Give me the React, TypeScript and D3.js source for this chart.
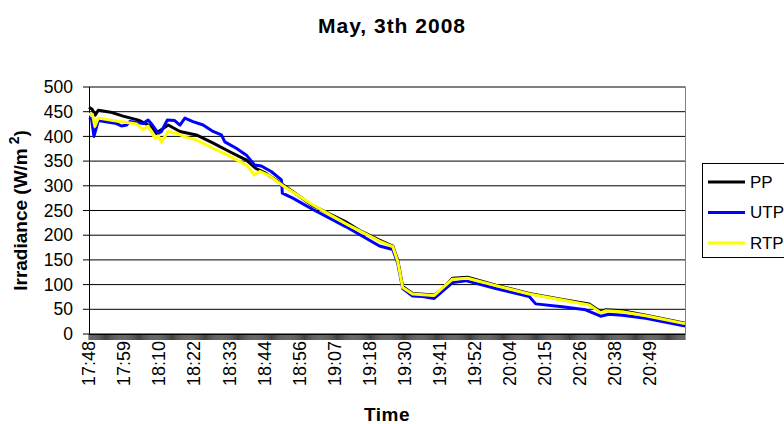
import React from "react";
import * as d3 from "d3";

// minutes after 17:48 and irradiance (W/m²)
const ppT = [0, 1, 2, 3, 7, 11, 16, 18.6, 20.5, 21.8, 23, 25.6, 29.4, 34.7, 40, 45.5, 50.9, 54, 57, 62.7, 72, 83, 87.4, 93.9, 98.2, 99.8, 101.4, 104.6, 111.6, 113.8, 117.5, 122.4, 131.5, 142.3, 153, 161.6, 165.4, 167, 172.4, 180, 192.67];
const ppV = [459, 455, 443, 453, 449, 441, 433, 425, 418, 406, 412, 423, 410, 403, 387, 369, 352, 335, 326, 302, 261, 227, 210, 190, 178, 150, 96, 82, 79, 89, 113, 115, 99, 82, 70, 61, 45, 49, 47, 38, 22];

const utpT = [0, 0.8, 1.6, 3, 8.9, 10.5, 12.2, 13.2, 17.5, 19.1, 20.5, 22.4, 23.4, 25.3, 27.7, 29.4, 31, 33.6, 36.9, 40.1, 42.8, 43.9, 47.6, 50.9, 53.5, 55.7, 58.9, 62.2, 62.5, 65.9, 72.4, 83.1, 93.9, 98.2, 99.8, 101.4, 104.6, 107.8, 111.6, 117.5, 121.8, 131.5, 142.3, 144.4, 153, 160.5, 165.4, 168, 172.4, 180, 192.67];
const utpV = [438, 436, 400, 432, 426, 421, 423, 430, 426, 433, 423, 406, 410, 433, 432, 423, 437, 430, 423, 410, 403, 389, 376, 362, 342, 340, 329, 312, 285, 275, 252, 217, 178, 171, 143, 92, 77, 76, 72, 104, 108, 92, 76, 61, 55, 49, 36, 40, 38, 32, 16];

const rtpT = [0, 1.1, 1.9, 3, 7.8, 12.2, 15.4, 17.5, 19.1, 21.3, 22.4, 23.4, 25.6, 28.3, 31.5, 34.7, 40.1, 45.5, 50.9, 53.5, 55.2, 58.4, 62.7, 72.4, 83.1, 93.9, 98.2, 99.8, 101.4, 104.6, 111.6, 117.5, 122.4, 131.5, 142.3, 153, 161.6, 165.4, 167, 172.4, 180, 192.67];
const rtpV = [445, 445, 420, 437, 432, 428, 425, 414, 421, 396, 401, 389, 410, 406, 398, 393, 376, 360, 342, 322, 329, 320, 300, 261, 223, 188, 177, 147, 94, 81, 78, 111, 113, 98, 81, 69, 59, 43, 47, 45, 37, 21];

const seriesNames = ["PP", "UTP", "RTP"];
const seriesColors = ["#000000", "#0000ff", "#ffff00"];

const yTicks = [0, 50, 100, 150, 200, 250, 300, 350, 400, 450, 500];
const xTickLabels = ["17:48", "17:59", "18:10", "18:22", "18:33", "18:44", "18:56", "19:07", "19:18", "19:30", "19:41", "19:52", "20:04", "20:15", "20:26", "20:38", "20:49"];
const samplesPerLabel = 34; // one sample every 20 s
const sampleMin = 1 / 3;
const totalSamples = 578;

const FONT = "'Liberation Sans', Arial, sans-serif";

export default function App() {
  const W = 784, H = 424;
  const left = 89, right = 685, top = 87, bottom = 334;
  const x = d3.scaleLinear().domain([0, totalSamples * sampleMin]).range([left, right]);
  const y = d3.scaleLinear().domain([0, 500]).range([bottom, top]);

  const series = [
    { name: seriesNames[0], color: seriesColors[0], t: ppT, v: ppV },
    { name: seriesNames[1], color: seriesColors[1], t: utpT, v: utpV },
    { name: seriesNames[2], color: seriesColors[2], t: rtpT, v: rtpV },
  ];
  const line = d3.line<[number, number]>().x((d) => x(d[0])).y((d) => y(d[1]));
  const minorTicks = d3.range(0, totalSamples + 1).map((i) => i * sampleMin);

  return (
    <svg width={W} height={H} style={{ position: "absolute", left: 0, top: 0, display: "block", background: "#fff" }} fontFamily={FONT}>
      <rect x={0} y={0} width={W} height={H} fill="#fff" />
      <text x={392} y={33} textAnchor="middle" fontSize={21} fontWeight="bold" letterSpacing={1}>May, 3th 2008</text>

      {/* gridlines */}
      {yTicks.map((t) => (
        <line key={"g" + t} x1={left} x2={right} y1={y(t)} y2={y(t)} stroke="#000" strokeWidth={1} />
      ))}
      <rect x={left + 0.5} y={top} width={right - left} height={bottom - top} fill="none" stroke="#808080" />

      {/* y axis */}
      <line x1={left + 0.5} x2={left + 0.5} y1={top} y2={bottom + 1} stroke="#000" />
      {yTicks.map((t) => (
        <g key={"y" + t}>
          <line x1={left - 6} x2={left} y1={y(t)} y2={y(t)} stroke="#000" />
          <text x={73} y={y(t)} dy="0.35em" textAnchor="end" fontSize={17.5}>{t}</text>
        </g>
      ))}

      {/* x axis */}
      <line x1={left} x2={right} y1={bottom + 0.5} y2={bottom + 0.5} stroke="#000" />
      {minorTicks.map((m, i) => (
        <line key={"m" + i} x1={x(m)} x2={x(m)} y1={bottom} y2={bottom + 6} stroke="#000" strokeWidth={0.75} />
      ))}
      {xTickLabels.map((lab, i) => {
        const px = x(i * samplesPerLabel * sampleMin);
        return (
          <text key={lab} transform={`translate(${px},${341}) rotate(-90)`} dy="0.35em" textAnchor="end" fontSize={18}>{lab}</text>
        );
      })}
      <text x={387} y={421} textAnchor="middle" fontSize={19} fontWeight="bold" letterSpacing={0.5}>Time</text>

      <text transform={`translate(27,${(top + bottom) / 2}) rotate(-90)`} textAnchor="middle" fontSize={19} fontWeight="bold">
        Irradiance (W/m<tspan dy="-8" fontSize={14}> 2</tspan><tspan dy="8">)</tspan>
      </text>

      {/* series */}
      {series.map((s) => (
        <path key={s.name} d={line(s.t.map((tt, i) => [tt, s.v[i]] as [number, number])) || ""} fill="none" stroke={s.color} strokeWidth={3} strokeLinejoin="round" />
      ))}

      {/* legend */}
      <rect x={702.5} y={163.5} width={100} height={94} fill="#fff" stroke="#000" />
      {series.map((s, i) => (
        <g key={"l" + s.name}>
          <line x1={708} x2={745} y1={182 + i * 30.5} y2={182 + i * 30.5} stroke={s.color} strokeWidth={3} />
          <text x={750} y={182 + i * 30.5} dy="0.35em" fontSize={17}>{s.name}</text>
        </g>
      ))}
    </svg>
  );
}
